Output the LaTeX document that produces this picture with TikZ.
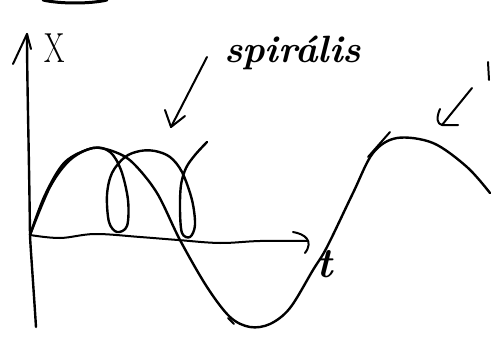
\documentclass[tikz,border=0pt]{standalone}
\begin{document}
\begin{tikzpicture}[x=1pt,y=-1pt,
  pen/.style={line width=2.4pt,line cap=round,line join=round,black},
  thinpen/.style={line width=2pt,line cap=round,line join=round,black},
  hand/.style={inner sep=0pt,outer sep=0pt}]
\useasboundingbox (0,0) rectangle (493,337);
% top-left fragment
\draw[pen,line width=3pt] (43,0) .. controls (60,4) and (90,4) .. (107,0);
% axes
\coordinate (o) at (30,235);
\coordinate (ytop) at (27,34);
\coordinate (ybot) at (36,327);
\draw[pen] (ybot) .. controls (33,280) and (30,240) .. (o) .. controls (29,150) and (27,80) .. (ytop);
\draw[thinpen] (13,64) -- (ytop) -- (31,49);
\coordinate (xend) at (308,241);
\draw[thinpen] plot[smooth,tension=0.6] coordinates {(30,235) (60,238) (95,234) (140,237) (178,240) (220,243) (260,241) (308,241)};
\draw[thinpen] (293,232) .. controls (305,234) and (314,241) .. (305,253);
\node[hand,font=\fontsize{42}{42}\selectfont,xscale=0.7,anchor=base west] (lx) at (44,63) {X};
\node[hand,font=\fontsize{42}{42}\selectfont\bfseries\itshape,anchor=base] (lt) at (325,277) {t};
% sine-like curve
\draw[pen] plot[smooth,tension=0.55] coordinates {(30,235) (50,187) (70,160) (93,148) (115,152) (133,163) (157,193) (180,240) (207,287) (230,317) (250,327) (270,324) (290,308) (313,270) (327,247) (353,193) (373,153) (397,138) (433,143) (467,167) (490,193)};
\draw[thinpen] (390,132) -- (368,157);
\draw[thinpen] (228,318) -- (234,324);
% spiral curve
\draw[pen] plot[smooth,tension=0.55] coordinates {(30,235) (45,195) (65,162) (93,148) (110,152) (121,170) (128,200) (127,226) (117,232) (109,222) (107,195) (112,173) (125,157) (140,151) (155,151) (170,157) (182,172) (192,200) (195,225) (190,237) (182,233) (180,210) (181,185) (186,168) (195,155) (207,142)};
% label spirális with arrow
\node[hand,font=\fontsize{38}{38}\selectfont\bfseries\itshape,anchor=base west] (ls) at (224,63) {spirális};
\coordinate (sa) at (207,57);
\coordinate (st) at (171,127);
\draw[thinpen] (sa) -- (st);
\draw[thinpen] (165,110) -- (st) -- (185,116);
% right arrow
\coordinate (ra) at (472,88);
\coordinate (rt) at (442,125);
\draw[thinpen] (ra) -- (rt);
\draw[thinpen] (440,109) .. controls (436,118) and (437,124) .. (rt) -- (458,125);
% partial letter at right edge
\draw[thinpen] (488,62) -- (489,80);
\end{tikzpicture}
\end{document}
